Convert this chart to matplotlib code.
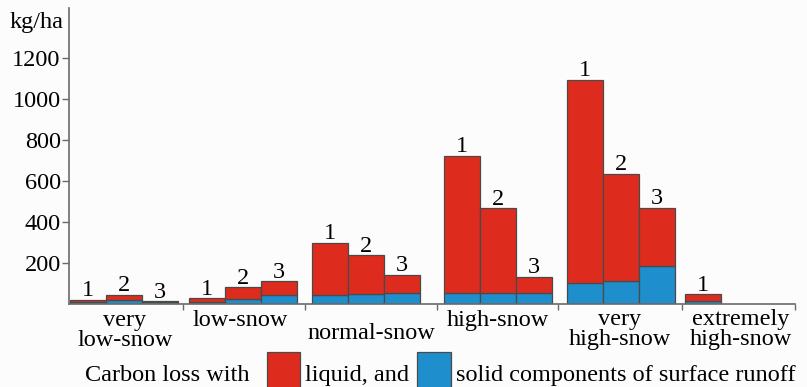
import matplotlib.pyplot as plt
import matplotlib.patches as mpatches

plt.rcParams['font.family'] = ['Liberation Serif', 'DejaVu Serif']

categories = ['very\nlow-snow', 'low-snow', 'normal-snow', 'high-snow',
              'very\nhigh-snow', 'extremely\nhigh-snow']
# carbon loss, kg/ha: solid (blue) part and liquid (red) part, bars 1..3 per group
solid = [[8, 20, 12], [10, 23, 42], [45, 50, 54], [55, 54, 56], [104, 114, 185], [15]]
liquid = [[12, 24, 1], [18, 59, 69], [254, 187, 87], [667, 413, 77], [989, 520, 285], [32]]
bar_names = ['1', '2', '3']
yticks = [200, 400, 600, 800, 1000, 1200]

red = '#dd2c1e'
blue = '#1e8fcc'
edge = '#4a4a4a'
axcol = '#6a6a6a'
fs = 17.5

# layout (x in bar widths from the y axis)
group_x0 = [0.03, 3.33, 6.75, 10.42, 13.83, 17.11]
sep_ticks = [3.17, 6.56, 10.22, 13.58, 17.03, 20.15]
label_x = [1.55, 4.75, 8.4, 11.9, 15.3, 18.65]
label_y = [-0.09, -0.055, -0.10, -0.055, -0.087, -0.087]

fig = plt.figure(figsize=(8.07, 3.87), dpi=100)
fig.patch.set_facecolor('#fcfcfc')
ax = fig.add_axes([0.0855, 0.2145, 0.9, 0.765])
ax.set_facecolor('#fcfcfc')

for g in range(len(categories)):
    for i in range(len(solid[g])):
        x = group_x0[g] + i
        s = solid[g][i]
        l = liquid[g][i]
        ax.bar(x, s, width=1, align='edge', color=blue, edgecolor=edge, linewidth=0.9)
        ax.bar(x, l, width=1, bottom=s, align='edge', color=red, edgecolor=edge, linewidth=0.9)
        ax.annotate(bar_names[i], (x + 0.5, s + l), xytext=(0, -1), textcoords='offset points',
                    ha='center', va='bottom', fontsize=fs)

ax.set_xlim(0, 20.17)
ax.set_ylim(0, 1445)
ax.set_yticks(yticks)
ax.set_yticklabels([str(v) for v in yticks], fontsize=fs)
ax.tick_params(axis='y', direction='out', length=5, width=1, color=axcol, pad=1)
ax.set_xticks(sep_ticks)
ax.set_xticklabels([])
ax.tick_params(axis='x', direction='out', length=4, width=1, color=axcol)
for sp in ['top', 'right']:
    ax.spines[sp].set_visible(False)
for sp in ['left', 'bottom']:
    ax.spines[sp].set_color(axcol)
    ax.spines[sp].set_linewidth(1.2)

tr = ax.get_xaxis_transform()
for g, name in enumerate(categories):
    ax.text(label_x[g], label_y[g], name, transform=tr, ha='center', va='center',
            fontsize=fs, linespacing=0.95)

fig.text(0.012, 0.943, 'kg/ha', fontsize=fs, va='center', ha='left')

# legend row
fig.text(0.105, 0.03, 'Carbon loss with', fontsize=fs, va='center', ha='left')
fig.patches.append(mpatches.Rectangle((267 / 807, -0.01), 33 / 807, 0.1, transform=fig.transFigure,
                                      facecolor=red, edgecolor=edge, linewidth=0.9))
fig.text(305 / 807, 0.03, 'liquid, and', fontsize=fs, va='center', ha='left')
fig.patches.append(mpatches.Rectangle((417 / 807, -0.01), 34 / 807, 0.1, transform=fig.transFigure,
                                      facecolor=blue, edgecolor=edge, linewidth=0.9))
fig.text(456 / 807, 0.03, 'solid components of surface runoff', fontsize=fs, va='center', ha='left')

fig.savefig('out.png', dpi=100, facecolor=fig.get_facecolor())
